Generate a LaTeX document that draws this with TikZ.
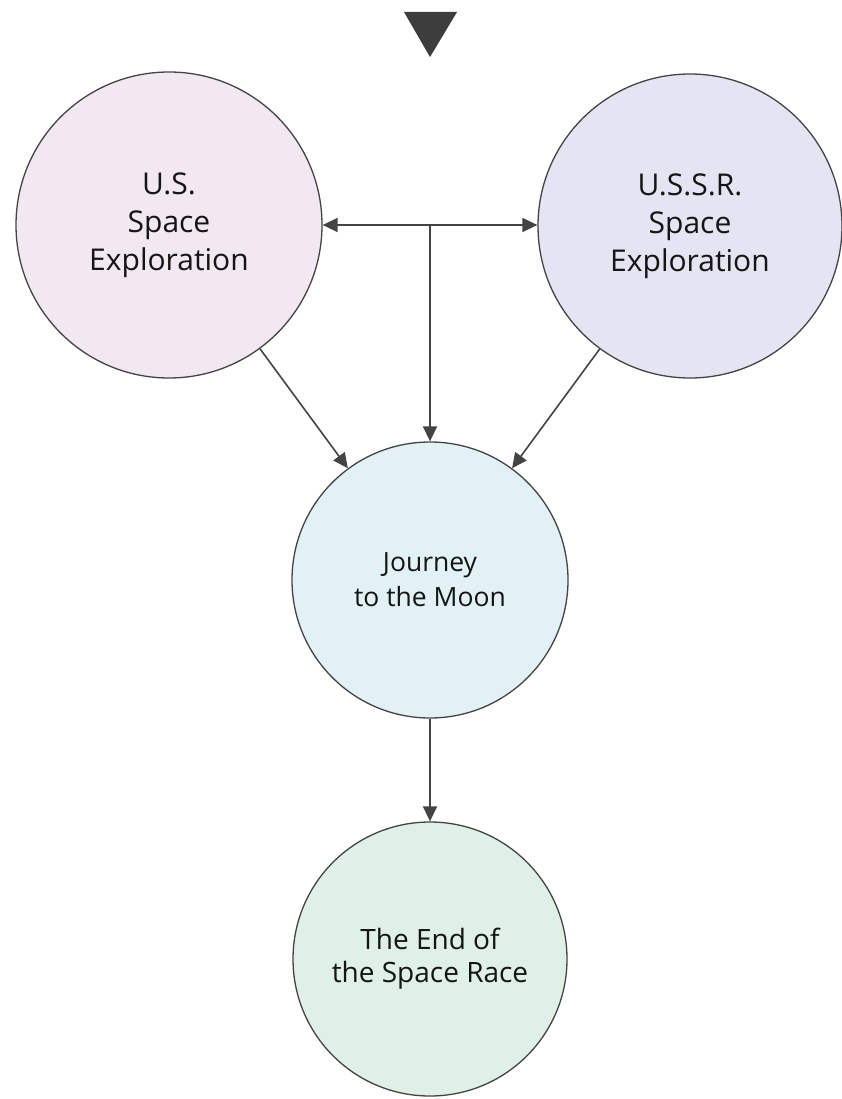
\documentclass[tikz,border=0pt]{standalone}
\usepackage{fontspec}
\setmainfont{Open Sans}
\usetikzlibrary{arrows.meta}
\definecolor{usfill}{HTML}{F2E8F2}
\definecolor{ussrfill}{HTML}{E4E4F2}
\definecolor{jfill}{HTML}{E2F1F5}
\definecolor{endfill}{HTML}{DFF0E6}
\definecolor{edge}{HTML}{444444}
\definecolor{txt}{HTML}{151515}
\begin{document}
\begin{tikzpicture}[x=1pt,y=-1pt,
  bubble/.style={circle,draw=edge,line width=1.3pt,inner sep=0pt,align=center,text=txt},
  conn/.style={draw=edge,line width=1.6pt,-{Triangle[length=15pt,width=14pt]}},
  bigtext/.style={font=\fontsize{30}{38}\selectfont},
  midtext/.style={font=\fontsize{26.5}{35}\selectfont},
  endtext/.style={font=\fontsize{28}{33}\selectfont}]
\useasboundingbox (0,0) rectangle (842,1099);
\fill[white] (0,0) rectangle (842,1099);
\fill[edge!90!black] (404,12) -- (457,12) -- (430,57) -- cycle;
\node[bubble,fill=usfill,minimum size=306pt,bigtext] (us) at (169,225) {U.S.\\Space\\Exploration};
\node[bubble,fill=ussrfill,minimum size=304pt,bigtext] (ussr) at (690,226) {U.S.S.R.\\Space\\Exploration};
\node[bubble,fill=jfill,minimum size=276pt,midtext] (j) at (430,580) {Journey\\to the Moon};
\node[bubble,fill=endfill,minimum size=274pt,endtext] (end) at (430,959) {The End of\\the Space Race};
\coordinate (mid) at (430,225);
\draw[conn,{Triangle[length=15pt,width=14pt]}-{Triangle[length=15pt,width=14pt]}] (us.east) -- (ussr.west |- us.east);
\draw[conn] (mid) -- (j.north);
\draw[conn] (us) -- (j);
\draw[conn] (ussr) -- (j);
\draw[conn] (j.south) -- (end.north);
\end{tikzpicture}
\end{document}
